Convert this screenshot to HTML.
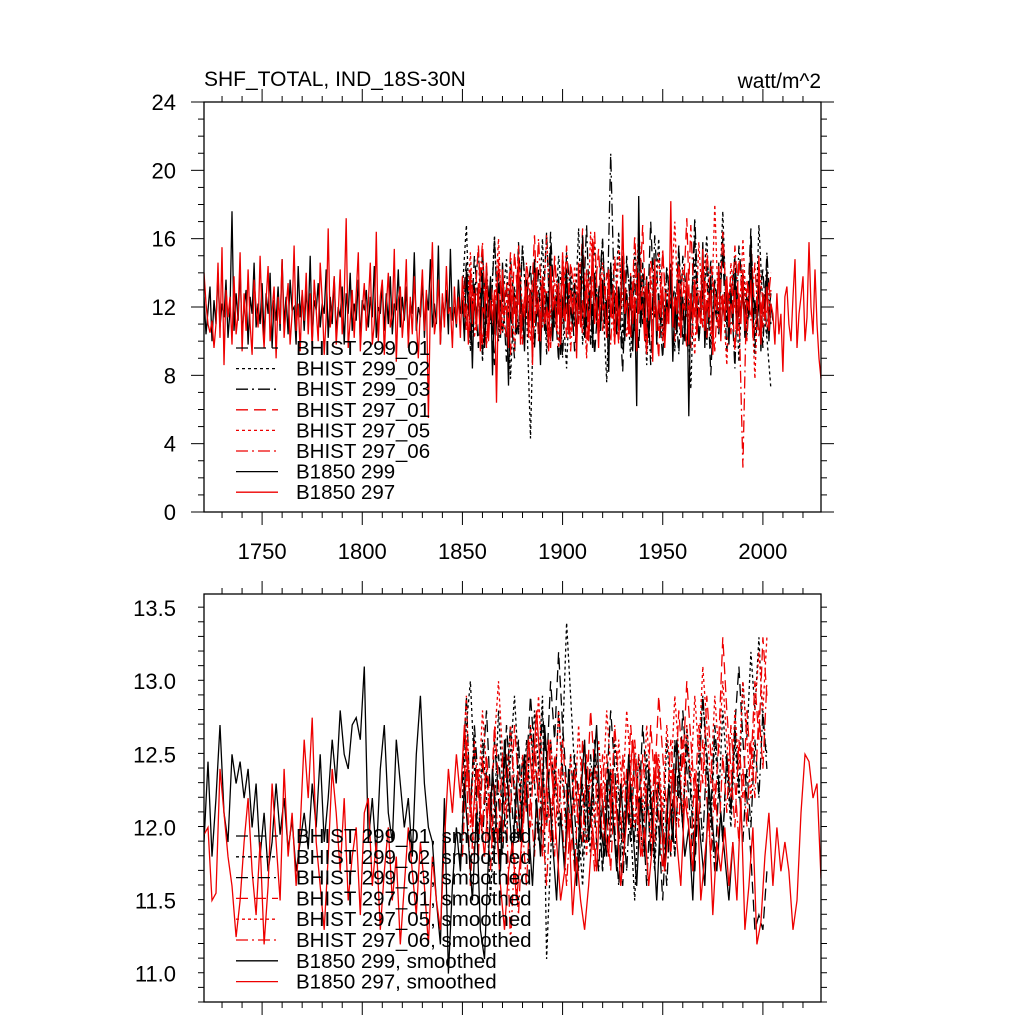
<!DOCTYPE html>
<html><head><meta charset="utf-8"><style>
body{margin:0;background:#fff}
svg{display:block;font-family:"Liberation Sans",sans-serif}
</style></head><body>
<svg id="c" width="1024" height="1024" viewBox="0 0 1024 1024">
<text x="204" y="86" font-size="21">SHF_TOTAL, IND_18S-30N</text>
<text x="821" y="88" font-size="21" text-anchor="end">watt/m^2</text>
</svg>
<script>
// ---------- data ----------
const topYTicks=[0,4,8,12,16,20,24];
const botYTicks=[11.0,11.5,12.0,12.5,13.0,13.5];
const xTicks=[1750,1800,1850,1900,1950,2000];
const legendTop=["BHIST 299_01","BHIST 299_02","BHIST 299_03","BHIST 297_01","BHIST 297_05","BHIST 297_06","B1850 299","B1850 297"];
const legendBot=["BHIST 299_01, smoothed","BHIST 299_02, smoothed","BHIST 299_03, smoothed","BHIST 297_01, smoothed","BHIST 297_05, smoothed","BHIST 297_06, smoothed","B1850 299, smoothed","B1850 297, smoothed"];
const startB1850=1721, startBHIST=1850;
const topR=[14.0,12.2,11.0,10.5,11.2,9.6,11.0,14.6,10.2,15.5,8.6,13.0,11.4,12.6,9.8,13.8,10.4,11.6,15.2,9.4,12.8,10.6,14.2,11.0,9.2,13.6,12.0,10.8,15.0,11.4,9.6,12.4,14.4,10.0,11.8,13.2,9.0,12.6,11.0,14.8,10.2,12.0,13.4,9.8,11.6,15.6,10.6,12.2,9.4,13.0,11.2,14.0,10.4,12.8,9.6,13.6,11.8,10.0,14.6,12.4,9.2,11.4,16.6,10.8,12.0,13.8,9.8,11.6,14.2,10.4,12.6,17.2,9.6,11.2,13.0,10.2,12.8,15.2,9.4,11.8,13.4,10.6,12.2,14.6,9.8,11.0,16.4,10.0,12.6,13.6,9.2,12.0,14.0,10.8,11.6,15.4,8.8,12.4,13.2,10.2,11.8,14.8,9.6,12.6,10.4,13.8,11.2,9.0,12.0,14.2,10.6,13.0,5.5,12.2,15.8,10.4,11.4,13.6,9.8,12.8,
10.8,14.4,11.6,12.0,9.6,13.2,11.0,12.6,10.2,13.8,11.4,12.2,9.8,14.0,11.0,12.8,10.6,13.4,9.4,12.0,11.6,14.6,10.0,12.4,11.2,13.0,6.4,12.8,10.4,14.2,11.8,12.0,9.6,13.6,11.0,12.6,10.8,15.0,9.8,12.2,11.4,13.2,10.2,12.8,8.6,14.0,11.6,12.4,10.0,13.8,11.0,12.0,9.4,14.4,11.8,12.6,10.6,13.4,9.8,15.2,11.2,12.2,10.4,13.0,11.6,12.8,9.0,14.6,10.8,12.4,11.4,13.6,10.0,12.0,16.0,11.0,12.6,9.6,13.8,11.8,12.2,10.2,14.2,11.4,12.8,9.8,13.2,10.6,12.0,17.4,11.6,12.4,10.4,13.0,11.0,12.6,9.4,14.0,11.8,12.2,10.0,13.6,11.2,12.8,8.8,14.8,10.6,12.4,11.4,13.2,9.6,12.0,11.0,18.2,10.8,12.6,11.6,13.4,10.2,12.2,11.8,14.0,9.8,12.8,11.2,13.6,10.4,12.0,11.0,15.4,10.6,12.4,11.4,13.0,9.2,12.8,11.8,14.4,10.0,12.6,11.2,13.8,10.8,12.2,11.6,13.0,10.4,12.8,11.0,14.2,
10.6,12.4,11.8,13.6,10.2,11.0,11.4,15.0,9.8,12.8,11.2,13.2,10.6,12.2,11.6,9.8,12.8,10.4,11.6,8.2,12.6,13.2,11.0,10.0,12.6,14.8,9.6,11.6,12.6,13.8,10.0,11.4,15.8,12.0,10.4,14.2,11.0,9.0,7.8];
const topK=[12.6,10.4,11.8,13.2,10.0,12.4,11.0,14.0,10.8,12.2,11.4,13.6,10.2,11.8,17.6,10.6,12.8,11.2,14.2,10.4,12.0,13.0,9.8,12.6,11.6,14.6,10.8,12.2,11.0,13.4,10.2,12.8,11.6,14.0,9.6,12.4,11.2,13.2,10.6,14.8,11.0,12.6,10.4,13.6,11.8,12.0,9.8,14.4,11.4,12.8,10.6,13.0,11.2,15.0,10.0,12.4,11.8,13.4,10.8,12.2,11.6,14.2,10.2,12.6,11.0,13.8,10.4,12.0,11.4,13.2,9.8,12.8,11.6,14.0,10.6,12.2,11.2,13.6,10.0,12.4,11.8,13.0,10.8,12.6,11.4,14.4,10.2,12.0,11.6,13.4,10.6,12.8,11.0,13.8,10.4,12.2,11.8,14.2,10.8,12.6,11.2,13.2,10.0,12.4,11.6,15.2,10.6,12.0,11.4,13.6,10.2,12.8,11.8,14.8,10.8,12.2,11.0,15.6,9.8,12.6,
11.4,13.0,10.4,15.4,11.2,12.0,10.8,13.6,11.6,12.4,10.0,14.2,11.8,12.6,8.4,13.2,11.0,12.8,10.6,14.0,9.6,12.2,11.4,13.8,8.0,12.6,11.0,13.4,10.2,14.6,11.8,12.0,7.4,13.0,11.2,12.8,10.4,14.4,11.6,12.2,9.4,13.6,11.0,12.6,10.8,14.8,11.4,12.0,8.6,13.2,10.6,12.8,11.8,15.6,10.0,12.4,11.2,13.8,9.2,12.6,11.6,14.2,10.4,12.0,11.0,13.4,9.8,12.8,11.4,16.2,10.2,12.2,11.8,13.0,9.6,14.0,11.2,12.6,10.6,13.6,11.0,12.4,8.2,14.6,11.6,12.0,10.4,13.2,11.8,15.0,10.0,12.8,11.2,13.8,9.4,12.2,6.2,18.5,10.8,12.6,11.4,13.4,10.2,12.0,11.8,14.4,9.8,12.8,11.0,13.0,10.6,12.4,11.6,14.2,8.8,12.2,10.4,13.6,11.2,12.6,10.0,14.0,5.6,12.8,11.8,13.2,10.8,12.0,11.4,15.8,9.6,12.4,11.0,13.8,10.2,12.6,11.6,14.6,10.4,12.2,11.2,13.4,9.8,12.8,11.0,14.0,10.6,12.0,11.8,13.2,10.2,12.6,11.4,16.0,10.8,12.4,11.0,13.6,9.4,12.8,11.6,14.2,10.0,12.2,11.2];
const topH1=[12.0,14.6,10.2,13.4,9.6,15.2,11.0,12.8,8.6,14.0,10.4,13.2,11.8,9.0,15.8,10.6,12.4,14.4,9.8,13.0,11.2,16.4,10.0,12.6,8.8,14.8,11.6,13.6,9.4,12.2,15.4,10.8,13.8,9.2,12.8,16.0,10.4,14.2,11.0,12.6,8.2,15.0,11.8,13.4,9.6,14.6,10.2,17.0,11.4,12.0,9.0,14.0,12.6,10.6,15.6,9.8,13.2,11.2,16.2,10.0,12.8,14.4,8.0,13.6,11.6,15.2,9.4,12.4,14.8,10.8,13.0,11.0,16.6,9.6,12.2,14.2,10.4,12.8];
const topH2=[13.0,16.8,9.4,12.6,15.4,8.8,13.8,11.2,16.2,10.0,12.4,14.8,7.8,13.2,10.6,15.6,12.0,4.3,14.0,11.4,16.0,9.2,13.6,10.8,15.0,12.2,8.4,14.4,11.0,16.6,9.8,13.4,12.6,15.8,10.2,12.8,7.6,14.6,11.6,16.4,10.4,13.0,9.0,15.2,12.4,14.0,8.6,13.8,11.8,16.0,10.6,12.2,14.6,9.4,15.4,11.2,13.6,7.2,14.8,10.0,12.8,16.2,9.6,13.2,11.4,17.6,10.8,12.6,15.0,8.8,14.2,11.6,13.8,9.2,16.8,12.0,10.2,7.2];
const topH3=[11.6,13.8,10.0,15.0,12.2,9.2,14.4,11.0,16.0,10.6,13.2,8.8,14.8,12.0,10.4,15.6,11.8,13.0,9.6,14.2,12.6,10.2,16.4,11.4,13.6,9.0,15.2,12.8,10.8,14.0,11.2,16.8,9.8,13.4,12.0,15.8,10.4,21.0,11.6,13.0,9.4,14.6,12.4,10.6,15.4,11.0,13.8,8.6,16.2,12.2,10.0,14.4,11.8,13.2,9.2,15.0,12.6,10.8,17.2,11.4,13.6,9.8,14.8,12.0,10.4,16.0,11.2,13.4,8.4,15.6,12.8,10.2,14.2,11.6,13.0,9.6,15.2,11.0];
const topR1=[12.4,10.6,14.2,11.8,15.6,9.8,13.0,12.2,10.4,14.8,11.6,13.4,9.2,15.2,12.0,10.8,14.4,11.2,16.2,10.0,13.6,12.6,9.6,15.0,11.4,13.8,10.2,14.6,12.8,11.0,16.6,9.4,13.2,12.4,15.4,10.6,14.0,11.8,13.0,9.8,15.8,12.2,10.4,14.2,11.6,16.8,10.0,13.6,12.6,9.0,15.2,11.2,13.4,10.8,14.6,12.0,17.2,9.6,13.0,11.4,15.0,10.2,14.4,12.8,10.6,16.4,11.8,13.8,9.4,14.8,12.2,10.0,15.6,11.6,13.2,10.8,14.0,12.4];
const topR2=[13.6,11.0,15.2,10.2,12.8,14.6,9.8,13.4,11.6,16.0,10.6,12.4,14.2,9.4,15.6,11.8,13.0,10.0,14.8,12.2,10.8,16.2,11.4,13.6,9.6,15.0,12.6,10.4,14.4,11.2,13.8,9.0,16.4,12.0,10.6,14.6,11.8,13.2,9.8,15.4,12.4,10.2,14.0,11.0,16.6,12.8,9.4,13.8,11.6,15.2,10.0,13.0,12.2,17.0,10.8,14.2,11.4,12.6,9.2,15.8,11.8,13.4,10.4,18.0,11.0,12.8,8.6,14.6,12.0,10.6,16.0,11.2,13.6,7.8,14.4,12.4,10.8,13.0];
const topR3=[11.8,14.0,10.6,13.2,12.4,15.8,9.6,13.6,11.0,14.4,12.0,10.2,15.2,11.6,13.8,9.8,14.6,12.6,10.8,16.0,11.4,13.0,10.0,14.8,12.2,11.0,15.6,9.4,13.4,12.8,10.4,14.2,11.8,16.4,10.6,13.6,12.0,9.8,15.0,11.2,14.0,12.4,10.2,16.2,11.6,13.2,9.2,14.8,12.8,10.6,15.4,11.0,13.8,10.0,14.4,12.2,9.6,16.8,11.4,13.0,10.8,15.2,12.6,9.4,14.0,11.8,13.4,10.4,15.6,12.0,2.6,13.6,11.2,14.6,10.2,12.8,11.6,14.0];
const botR=[11.95,12.0,11.5,11.55,12.4,12.1,11.8,11.6,11.25,11.5,11.9,12.2,11.7,11.4,11.9,11.2,11.6,12.3,11.9,11.5,12.4,11.8,12.1,11.6,12.0,12.6,12.2,12.75,11.9,11.6,11.3,11.8,12.4,12.1,11.7,12.2,11.5,11.8,12.0,11.4,12.1,12.2,11.6,11.9,11.3,11.7,12.0,11.5,11.8,11.2,11.6,12.0,11.7,11.4,11.9,11.6,11.2,11.8,11.5,11.3,11.9,12.4,12.1,12.5,12.2,12.7,12.3,12.0,12.4,12.1,11.8,12.2,11.9,12.0,11.6,11.3,11.7,11.9,11.5,11.8,12.2,12.6,12.3,12.8,12.4,12.0,12.6,12.3,11.9,11.5,11.7,12.1,11.4,11.8,11.5,11.3,11.6,12.0,11.7,12.3,12.0,11.8,12.4,12.1,11.6,11.9,12.2,12.6,12.3,11.8,12.0,11.6,11.9,12.5,12.2,11.7,12.0,12.4,11.9,11.6,12.2,12.0,11.7,12.3,11.5,11.8,12.1,11.4,11.9,11.7,12.0,11.6,11.9,11.5,12.2,11.3,11.6,12.0,11.2,11.35,11.8,12.1,11.6,12.0,11.7,11.9,11.7,11.3,11.5,12.1,12.5,12.45,12.2,12.3,11.65];
const botK=[11.9,12.45,11.8,12.2,12.7,12.1,11.9,12.5,12.3,12.45,12.2,12.4,12.0,12.3,11.8,12.1,11.7,11.9,12.3,11.95,12.2,11.85,12.05,11.7,11.9,12.1,11.85,12.3,12.0,12.5,11.9,12.2,12.6,12.3,12.8,12.5,12.4,12.7,12.75,12.6,13.1,11.9,12.2,11.8,12.4,12.7,12.1,11.9,12.6,12.3,12.0,12.2,11.8,12.5,12.9,12.3,12.0,11.9,11.5,11.2,12.2,11.0,11.6,12.0,11.7,12.3,11.9,11.5,12.1,11.3,11.1,11.8,12.4,12.0,11.7,12.6,12.2,11.8,12.3,11.9,12.5,12.0,11.6,12.2,11.8,12.7,12.3,11.9,11.5,12.1,11.7,12.4,12.0,11.6,12.2,12.6,11.9,12.3,12.7,12.0,11.8,12.4,12.1,11.7,12.3,11.9,12.5,12.0,11.6,12.2,11.8,12.4,12.0,11.5,12.1,11.7,12.3,11.9,12.6,12.2,11.8,12.0,11.5,12.2,11.9,11.6,12.3,12.0,11.7,12.1,11.8,11.5,11.9];
const botH1=[12.3,12.9,12.1,12.6,11.9,12.4,12.8,12.2,11.8,12.5,12.1,12.7,12.3,11.9,12.6,12.0,12.4,12.9,12.5,12.2,12.8,12.4,13.0,12.6,13.2,12.7,12.3,12.0,12.5,12.2,11.8,12.4,12.0,12.6,12.2,11.7,12.3,12.8,12.4,12.0,11.6,12.2,11.9,12.5,12.1,12.7,12.3,11.8,12.4,12.0,11.5,12.1,11.8,12.6,12.2,12.8,12.4,12.0,11.7,12.3,12.9,12.5,12.1,12.7,12.3,11.9,12.5,12.1,12.7,13.1,12.6,12.2,11.8,11.3,11.4,11.3,11.7];
const botH2=[12.2,12.7,13.0,12.4,11.9,12.6,12.2,11.5,12.1,12.8,12.3,11.9,12.5,12.9,12.4,12.0,12.6,12.2,12.8,12.4,12.9,11.1,11.8,12.4,12.0,12.6,13.4,12.9,12.4,12.0,11.6,12.2,11.8,12.5,12.1,11.7,12.3,11.9,12.6,12.2,11.8,12.4,12.0,11.5,12.2,11.8,12.5,12.1,11.7,12.3,11.9,12.6,12.2,11.8,12.4,12.0,12.7,12.3,11.9,12.5,12.9,12.4,12.0,12.6,12.2,12.8,12.4,12.0,12.6,12.2,13.0,12.6,13.2,12.8,13.3,12.7,12.5];
const botH3=[12.0,12.5,12.1,12.7,12.3,11.9,12.4,12.0,12.6,12.2,11.8,12.3,12.7,12.2,11.9,12.5,12.1,12.7,12.3,11.9,12.4,12.0,12.6,12.2,12.8,12.4,12.0,12.5,12.1,11.7,12.3,11.9,12.5,12.1,11.7,12.2,11.8,12.4,12.0,11.6,12.1,11.7,12.3,11.9,12.5,12.1,11.6,12.2,11.8,12.4,12.0,11.6,12.2,11.8,12.4,12.0,12.6,12.2,11.8,12.3,11.9,12.5,12.1,11.7,12.3,11.9,12.5,12.1,12.7,12.3,11.9,12.4,12.0,12.6,12.2,12.8,12.4];
const botR1=[12.1,12.6,12.2,11.8,12.4,12.0,12.5,12.1,12.7,12.3,11.9,12.5,12.1,12.7,12.3,11.9,12.4,12.0,12.6,12.2,11.8,12.3,11.9,12.5,12.1,12.6,12.2,11.8,12.4,12.0,12.6,12.2,12.8,12.4,12.0,12.5,12.1,11.7,12.3,11.9,12.5,12.1,12.7,12.3,11.9,12.5,12.1,12.7,12.3,12.9,12.5,12.1,12.6,12.2,12.8,12.4,13.0,12.6,12.2,12.7,12.3,12.9,12.5,12.1,12.6,13.3,12.8,12.4,12.0,12.6,12.2,12.8,12.4,13.0,12.6,13.3,12.9];
const botR2=[12.4,12.9,12.0,12.6,12.2,12.8,12.4,12.0,12.6,13.0,12.5,12.1,12.7,12.3,11.9,12.5,12.1,12.7,12.3,12.9,12.4,12.0,12.6,12.2,12.8,12.3,11.9,12.5,12.1,12.7,12.2,11.8,12.4,12.0,12.6,12.2,12.8,12.4,12.0,12.6,12.2,12.8,12.4,12.0,12.5,12.1,12.7,12.3,11.9,12.5,12.1,12.7,12.3,12.9,12.5,12.1,12.7,12.3,12.9,12.5,13.1,12.7,12.3,12.9,12.5,13.0,12.6,12.2,12.8,12.4,13.0,12.6,12.2,12.8,13.2,12.8,13.3];
const botR3=[11.8,12.4,11.6,12.2,11.8,12.5,12.1,11.7,12.3,11.9,12.5,12.1,11.2,11.8,11.4,12.0,11.6,12.2,11.8,12.4,12.0,11.6,12.2,11.8,12.4,12.0,11.6,12.1,11.7,12.3,11.9,12.5,12.1,11.7,12.3,11.9,12.5,12.1,12.7,12.3,11.9,12.4,12.0,12.6,12.2,11.8,12.3,11.9,12.5,12.1,11.7,12.2,11.8,12.4,12.0,12.6,12.2,11.8,12.4,12.0,12.6,12.2,11.8,12.3,11.9,12.5,12.1,12.7,12.3,11.9,12.4,12.0,12.6,12.2,12.8,12.4,13.0];

// ---------- drawing ----------
const NS="http://www.w3.org/2000/svg";
const svg=document.getElementById('c');
const X0=204,X1=821,Y0=1721,Y1=2029;
const xs=y=>X0+(y-Y0)*(X1-X0)/(Y1-Y0);
function mk(tag,attrs,parent){const e=document.createElementNS(NS,tag);for(const k in attrs)e.setAttribute(k,attrs[k]);(parent||svg).appendChild(e);return e;}
const styles=[
 {c:"#000",d:"12 6"},{c:"#000",d:"3 3"},{c:"#000",d:"12 4 2 4"},
 {c:"#e00",d:"12 6"},{c:"#e00",d:"3 3"},{c:"#e00",d:"12 4 2 4"},
 {c:"#000",d:""},{c:"#e00",d:""}];
function panel(name,top,bot,vmin,vmax,ticks,minorStep,series,legend,legY0,legDy,labels,fmt){
  const ys=v=>bot-(v-vmin)*(bot-top)/(vmax-vmin);
  const g=mk('g',{});
  
  
  const clip=mk('clipPath',{id:'cl'+name},g);
  mk('rect',{x:X0,y:top,width:X1-X0,height:bot-top},clip);
  const lg=mk('g',{'clip-path':'url(#cl'+name+')'},g);
  series.forEach((s,i)=>{
    const pts=s.vals.map((v,j)=>xs(s.start+j*s.step).toFixed(1)+','+ys(v).toFixed(1)).join(' ');
    const p=mk('polyline',{points:pts,fill:'none',stroke:styles[s.st].c,'stroke-width':1.3,'stroke-dasharray':styles[s.st].d},lg);
    
    
  });
  const fr=mk('rect',{x:X0,y:top,width:X1-X0,height:bot-top,fill:'none',stroke:'#000','stroke-width':1.3},g);
  
  
  for(let yr=1730;yr<=2020;yr+=10){
    const maj=yr%50===0,x=xs(yr),L=maj?13:6;
    mk('line',{x1:x,x2:x,y1:top,y2:top-L,stroke:'#000','stroke-width':1},g);
    mk('line',{x1:x,x2:x,y1:bot,y2:bot+L,stroke:'#000','stroke-width':1},g);
  }
  for(let v=vmin;v<=vmax+1e-6;v+=minorStep){
    const vv=Math.round(v*1000)/1000;
    const maj=ticks.some(t=>Math.abs(t-vv)<1e-6),y=ys(vv),L=maj?13:6;
    mk('line',{x1:X0,x2:X0-L,y1:y,y2:y,stroke:'#000','stroke-width':1},g);
    mk('line',{x1:X1,x2:X1+L,y1:y,y2:y,stroke:'#000','stroke-width':1},g);
  }
  ticks.forEach(t=>{
    const tx=mk('text',{x:176,y:ys(t)+8,'font-size':22,'text-anchor':'end'},g);
    tx.textContent=fmt(t);
    
    
  });
  if(labels){xTicks.forEach(t=>{
    const tx=mk('text',{x:xs(t),y:bot+47,'font-size':22,'text-anchor':'middle'},g);
    tx.textContent=t;
    
    
  });}
  legend.forEach((txt,i)=>{
    const y=legY0+i*legDy;
    const ln=mk('line',{x1:236,x2:278,y1:y,y2:y,stroke:styles[i].c,'stroke-width':1.3,'stroke-dasharray':styles[i].d},g);
    
    
    const tx=mk('text',{x:296,y:y+7,'font-size':20.5},g);
    tx.textContent=txt;
    
    
  });
}
panel('top-panel',102,512,0,24,topYTicks,1,[
 {vals:topH1,start:startBHIST,step:2,st:0,name:'bhist-299-01'},
 {vals:topH2,start:startBHIST,step:2,st:1,name:'bhist-299-02'},
 {vals:topH3,start:startBHIST,step:2,st:2,name:'bhist-299-03'},
 {vals:topR1,start:startBHIST,step:2,st:3,name:'bhist-297-01'},
 {vals:topR2,start:startBHIST,step:2,st:4,name:'bhist-297-05'},
 {vals:topR3,start:startBHIST,step:2,st:5,name:'bhist-297-06'},
 {vals:topK,start:startB1850,step:1,st:6,name:'b1850-299'},
 {vals:topR,start:startB1850,step:1,st:7,name:'b1850-297'}],
 legendTop,348,20.6,true,t=>String(t));
panel('bottom-panel',594,1002,10.806,13.596,botYTicks,0.1,[
 {vals:botH1,start:startBHIST,step:2,st:0,name:'bhist-299-01-smoothed'},
 {vals:botH2,start:startBHIST,step:2,st:1,name:'bhist-299-02-smoothed'},
 {vals:botH3,start:startBHIST,step:2,st:2,name:'bhist-299-03-smoothed'},
 {vals:botR1,start:startBHIST,step:2,st:3,name:'bhist-297-01-smoothed'},
 {vals:botR2,start:startBHIST,step:2,st:4,name:'bhist-297-05-smoothed'},
 {vals:botR3,start:startBHIST,step:2,st:5,name:'bhist-297-06-smoothed'},
 {vals:botK,start:startB1850,step:2,st:6,name:'b1850-299-smoothed'},
 {vals:botR,start:startB1850,step:2,st:7,name:'b1850-297-smoothed'}],
 legendBot,836,20.8,false,t=>t.toFixed(1));
</script>
</body></html>
